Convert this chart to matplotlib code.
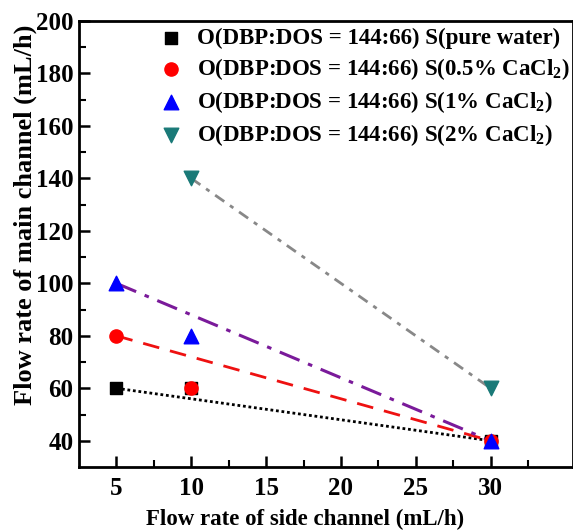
import matplotlib
matplotlib.use("Agg")
import matplotlib.pyplot as plt

plt.rcParams['font.family'] = ['Liberation Serif', 'DejaVu Serif']
plt.rcParams['font.weight'] = 'bold'
plt.rcParams['mathtext.default'] = 'regular'

# data
x_water = [5, 10, 30]
y_water = [60, 60, 40]
x_05 = [5, 10, 30]
y_05 = [80, 60, 40]
x_1 = [5, 10, 30]
y_1 = [100, 80, 40]
x_2 = [10, 30]
y_2 = [140, 60]

labels = ["O(DBP:DOS = 144:66) S(pure water)",
          "O(DBP:DOS = 144:66) S(0.5% CaCl$_2$)",
          "O(DBP:DOS = 144:66) S(1% CaCl$_2$)",
          "O(DBP:DOS = 144:66) S(2% CaCl$_2$)"]

fig = plt.figure(figsize=(5.73, 5.31), dpi=100)
ax = fig.add_axes([79/573, 64/531, 1 - 79/573, 446/531])

# trend lines from first to last point
ax.plot([x_water[0], x_water[-1]], [y_water[0], y_water[-1]], color='black', ls=(0, (1, 1)), lw=2, zorder=1)
ax.plot([x_05[0], x_05[-1]], [y_05[0], y_05[-1]], color='#ee1111', ls=(0, (6, 4)), lw=2, zorder=1)
ax.plot([x_1[0], x_1[-1]], [y_1[0], y_1[-1]], color='#7a1a9a', ls=(0, (7, 3, 1.5, 3)), lw=2.2, zorder=1)
ax.plot([x_2[0], x_2[-1]], [y_2[0], y_2[-1]], color='#888888', ls=(0, (4, 2.5, 1.5, 2.5)), lw=2, zorder=1)

ax.scatter(x_water, y_water, marker='s', s=70, color='black', label=labels[0], zorder=3)
ax.scatter(x_05, y_05, marker='o', s=90, color='#ff0000', label=labels[1], zorder=4)
ax.scatter(x_1, y_1, marker='^', s=110, color='#0000ff', label=labels[2], zorder=5)
ax.scatter(x_2, y_2, marker='v', s=110, color='#1a7a78', label=labels[3], zorder=5)

ax.set_xlim(2.5, 35.5)
ax.set_ylim(30, 200)
ax.set_xticks([5, 10, 15, 20, 25, 30])
ax.set_yticks([40, 60, 80, 100, 120, 140, 160, 180, 200])
ax.set_xticks([7.5, 12.5, 17.5, 22.5, 27.5, 32.5], minor=True)
ax.set_yticks(range(50, 200, 20), minor=True)
ax.tick_params(which='major', direction='in', length=8, width=1.8, labelsize=18)
ax.tick_params(axis='x', which='major', pad=7)
ax.tick_params(axis='y', which='major', pad=4)
ax.tick_params(which='minor', direction='in', length=5, width=1.5)
for sp in ax.spines.values():
    sp.set_linewidth(2)

ax.set_xlabel("Flow rate of side channel (mL/h)", fontsize=16.5, fontweight='bold')
ax.set_ylabel("Flow rate of main channel (mL/h)", fontsize=19, fontweight='bold')
ax.xaxis.set_label_coords((305 - 79) / 494, -(509 - 467) / 446)
ax.yaxis.set_label_coords(-(79 - 37) / 494, (467 - 215) / 446)

ax.legend(loc='upper left', bbox_to_anchor=(0.113, 1.015), frameon=False, fontsize=16.5,
          handletextpad=0.1, labelspacing=0.3, borderaxespad=0.2, scatterpoints=1)

fig.savefig("out.png", dpi=100)
